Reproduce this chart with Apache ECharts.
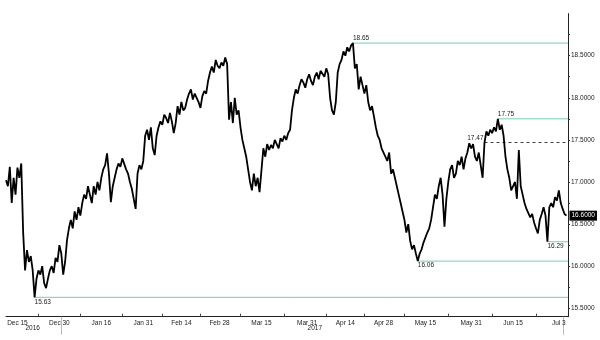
<!DOCTYPE html>
<html><head><meta charset="utf-8">
<script src="https://cdn.jsdelivr.net/npm/echarts@6/dist/echarts.min.js"></script>
<style>html,body{margin:0;padding:0;background:#fff}#c{width:600px;height:340px}</style>
</head><body><div id="c"></div>
<script>
// calendar range (weekdays only, as on the reference's trading-day axis)
const startDate = '2016-12-12';
const endDate = '2017-07-05';
// two readings per trading day
const values = [
17.02,16.95, 17.18,16.75, 17.05,16.85, 17.17,17.05, 17.22,16.40,
15.95,16.19, 16.05,16.12, 15.95,15.63, 15.85,15.95, 15.90,16.00,
15.80,15.74, 15.85,15.95, 16.00,15.92, 16.10,16.05, 16.25,16.15,
15.90,16.05, 16.31,16.45, 16.55,16.45, 16.65,16.55, 16.70,16.60,
16.75,16.85, 16.80,16.95, 16.85,16.75, 16.95,16.85, 17.00,16.90,
17.05,17.15, 17.20,17.34, 17.10,16.76, 16.95,17.05, 17.15,17.22,
17.18,17.28, 17.30,17.15, 17.10,17.00, 16.92,16.80, 16.68,17.10,
17.20,17.15, 17.25,17.55, 17.62,17.50, 17.65,17.40, 17.32,17.55,
17.65,17.72, 17.68,17.80, 17.76,17.70, 17.82,17.72, 17.58,17.70,
17.90,17.80, 17.95,17.85, 17.88,17.98, 18.05,18.10, 17.98,18.05,
18.05,17.95, 17.88,18.02, 18.08,18.05, 18.20,18.30, 18.37,18.30,
18.45,18.38, 18.35,18.42, 18.38,18.48, 18.40,17.74, 17.95,17.70,
18.00,17.80, 17.85,17.65, 17.50,17.40, 17.30,17.15, 17.00,16.90,
17.10,16.95, 17.05,16.88, 16.86,17.40, 17.30,17.45, 17.38,17.44,
17.40,17.50, 17.45,17.40, 17.52,17.48, 17.55,17.50, 17.58,17.62,
17.85,18.00, 18.10,18.05, 18.15,18.22, 18.18,18.12, 18.22,18.28,
18.20,18.15, 18.25,18.30, 18.22,18.32, 18.30,18.25, 18.35,18.28,
18.00,17.85, 17.80,17.95, 18.30,18.40, 18.45,18.55, 18.50,18.60,
18.55,18.62, 18.65,18.35, 18.40,18.10, 18.25,18.15, 18.05,18.15,
17.95,17.85, 17.90,17.78, 17.65,17.55, 17.50,17.40, 17.42,17.30,
17.25,17.35, 17.10,17.15, 17.05,16.95, 16.85,16.75, 16.65,16.55,
16.40,16.50, 16.30,16.20, 16.25,16.15, 16.06,16.15, 16.20,16.28,
16.30,16.40, 16.45,16.55, 16.70,16.85, 16.80,16.95, 17.05,16.85,
16.47,16.80, 17.00,17.15, 17.20,17.05, 17.10,17.25, 17.20,17.30,
17.15,17.28, 17.35,17.46, 17.40,17.45, 17.30,17.25, 17.35,17.20,
17.05,17.47, 17.60,17.55, 17.62,17.58, 17.65,17.60, 17.75,17.62,
17.68,17.55, 17.30,17.15, 17.05,16.90, 16.95,17.00, 16.80,17.38,
16.95,16.85, 16.75,16.68, 16.70,16.58, 16.62,16.52, 16.45,16.39,
16.55,16.62, 16.70,16.60, 16.29,16.70, 16.75,16.70, 16.82,16.78,
16.90,16.75, 16.68,16.62, 16.60
];
const xLabelDates = ['2016-12-15','2016-12-30','2017-01-16','2017-01-31','2017-02-14','2017-02-28',
  '2017-03-15','2017-03-31','2017-04-14','2017-04-28','2017-05-15','2017-05-31','2017-06-15','2017-07-03'];
const yTicks = [15.5, 16.0, 16.5, 17.0, 17.5, 18.0, 18.5];
const yAllTicks = [15.5, 15.75, 16.0, 16.25, 16.5, 16.75, 17.0, 17.25, 17.5, 17.75, 18.0, 18.25, 18.5, 18.75];
const levelsSolidAbove = [18.65, 17.75];
const levelsDashedLeft = [17.47];
const levelsSolidBelow = [16.29, 16.06, 15.63];

const MON = ['Jan','Feb','Mar','Apr','May','Jun','Jul','Aug','Sep','Oct','Nov','Dec'];
const days = [];
for (let t = Date.parse(startDate); t <= Date.parse(endDate); t += 86400000) {
  const d = new Date(t); const w = d.getUTCDay();
  if (w !== 0 && w !== 6) days.push(d.toISOString().slice(0, 10));
}
const labelIdx = xLabelDates.map(d => days.indexOf(d));
const labelText = xLabelDates.map(d => MON[+d.slice(5, 7) - 1] + ' ' + (+d.slice(8, 10)));
const tickIdx = [];
for (let i = 0; i < labelIdx.length - 1; i++) tickIdx.push((labelIdx[i] + labelIdx[i + 1]) / 2);
const data = values.map((v, i) => [i / 2, v]);
const X_MAX = days.length - 1 + 0.4;
const lastX = (values.length - 1) / 2;
const years = {};
days.forEach((d, i) => { const y = d.slice(0, 4); (years[y] = years[y] || []).push(i); });
const yearNames = Object.keys(years);
const yearPos = yearNames.map(y => (years[y][0] + Math.min(years[y][years[y].length - 1], lastX)) / 2);
const yearBoundary = [];
yearNames.slice(1).forEach(y => yearBoundary.push(years[y][0] - 0.5));
yearBoundary.push(lastX - 0.8);

const FONT = 'Liberation Sans Narrow, Liberation Sans, sans-serif';
const TXT = '#222';
const LEVEL_COLOR = '#6fd3ad';
const LABEL_BASE = { show: true, fontSize: 6.5, fontFamily: FONT, color: TXT, formatter: p => p.value[1].toFixed(2) };

function startIdx(v) { return values.lastIndexOf(v) / 2; }
function levelSeries(v, lineStyle, label) {
  return {
    type: 'line', silent: true, z: 1, symbol: 'circle', symbolSize: 0, showSymbol: true,
    lineStyle: lineStyle, itemStyle: { color: lineStyle.color }, clip: false,
    data: [{ value: [startIdx(v), v], label: Object.assign({}, LABEL_BASE, label) },
           { value: [X_MAX, v], label: { show: false } }]
  };
}
const levelSeriesList = [];
levelsSolidAbove.forEach(v => levelSeriesList.push(levelSeries(v,
  { color: LEVEL_COLOR, width: 1, type: 'solid' },
  { position: 'top', align: 'left', distance: 1 })));
levelsDashedLeft.forEach(v => levelSeriesList.push(levelSeries(v,
  { color: '#111', width: 0.8, type: [3, 3] },
  { position: 'left', distance: 1, offset: [0, -4] })));
levelsSolidBelow.forEach(v => levelSeriesList.push(levelSeries(v,
  { color: LEVEL_COLOR, width: 1, type: 'solid' },
  { position: 'bottom', align: 'left', distance: 1 })));

const chart = echarts.init(document.getElementById('c'), null, { renderer: 'canvas' });
chart.setOption({
  animation: false,
  backgroundColor: '#fff',
  grid: { left: 6, right: 32, top: 13.6, bottom: 23.3 },
  xAxis: [{
    type: 'value', min: 0, max: X_MAX, position: 'bottom',
    axisLine: { show: true, onZero: false, lineStyle: { color: '#222', width: 1 } },
    axisTick: { show: true, inside: true, length: 3, customValues: tickIdx, lineStyle: { color: '#444' } },
    axisLabel: { show: true, customValues: labelIdx, margin: 3, fontSize: 6.5, fontFamily: FONT, color: TXT,
      formatter: v => labelText[labelIdx.indexOf(v)] || '' },
    splitLine: { show: false }
  }, {
    type: 'value', min: 0, max: X_MAX, position: 'bottom',
    axisLine: { show: false, onZero: false },
    axisTick: { show: true, inside: false, length: 18, customValues: yearBoundary, lineStyle: { color: '#bbb' } },
    axisLabel: { show: true, customValues: yearPos, margin: 8, fontSize: 6.5, fontFamily: FONT, color: TXT,
      formatter: v => yearNames[yearPos.indexOf(v)] || '' },
    splitLine: { show: false }
  }],
  yAxis: [{
    type: 'value', position: 'right', min: 15.4, max: 19.0,
    axisLine: { show: true, onZero: false, lineStyle: { color: '#222', width: 1 } },
    axisTick: { show: true, inside: false, length: 2, customValues: yAllTicks, lineStyle: { color: '#333' } },
    axisLabel: { show: true, customValues: yTicks, margin: 3, fontSize: 6.5, fontFamily: FONT, color: TXT,
      formatter: v => v.toFixed(4) },
    splitLine: { show: false }
  }],
  series: levelSeriesList.concat([{
    type: 'line', data: data, xAxisIndex: 0, yAxisIndex: 0, z: 3,
    showSymbol: false, symbol: 'none', silent: true,
    lineStyle: { color: '#000', width: 1.8 },
    endLabel: { show: true, distance: 3, formatter: p => p.value[1].toFixed(4),
      color: '#fff', backgroundColor: '#000', fontSize: 6.5, fontFamily: FONT, padding: [2, 2, 1, 2] }
  }])
});
</script>
</body></html>
